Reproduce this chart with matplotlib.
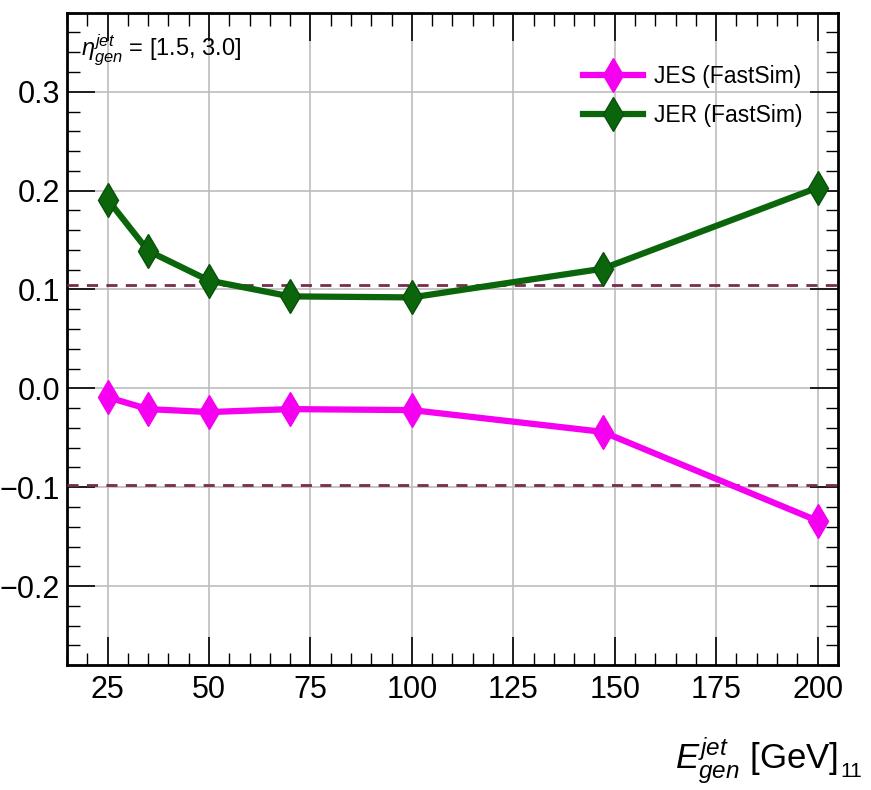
import matplotlib
matplotlib.use("Agg")
import matplotlib.pyplot as plt
from matplotlib.ticker import MultipleLocator

plt.rcParams['font.family'] = ['Liberation Sans', 'DejaVu Sans']
plt.rcParams['mathtext.fontset'] = 'custom'
plt.rcParams['mathtext.rm'] = 'Liberation Sans'
plt.rcParams['mathtext.it'] = 'Liberation Sans:italic'

e_gen = [25, 35, 50, 70, 100, 147, 200]
jes = [-0.009, -0.021, -0.024, -0.021, -0.022, -0.044, -0.134]
jer = [0.191, 0.139, 0.109, 0.093, 0.092, 0.121, 0.203]
band_hi = 0.105
band_lo = -0.098

fig = plt.figure(figsize=(8.71, 7.90), dpi=100)
ax = fig.add_axes([0.077, 0.158, 0.885, 0.826])

ax.axhline(band_hi, color='#7a2c4c', lw=2, ls=(0, (4, 3)), zorder=3)
ax.axhline(band_lo, color='#7a2c4c', lw=2, ls=(0, (4, 3)), zorder=3)

ax.plot(e_gen, jes, color='#f500f0', lw=4.5, marker='d', ms=17,
        mec='#f500f0', label='JES (FastSim)', zorder=4)
ax.plot(e_gen, jer, color='#0b650b', lw=4.5, marker='d', ms=17,
        mec='#0a4f0a', label='JER (FastSim)', zorder=4)

ax.set_xlim(15, 205)
ax.set_ylim(-0.28, 0.38)
ax.xaxis.set_major_locator(MultipleLocator(25))
ax.xaxis.set_minor_locator(MultipleLocator(5))
ax.yaxis.set_minor_locator(MultipleLocator(0.02))
ax.set_yticks([-0.2, -0.1, 0.0, 0.1, 0.2, 0.3])
ax.set_yticklabels(['\u22120.2', '\u22120.1', '0.0', '0.1', '0.2', '0.3'])
ax.grid(True, which='major', color='#bdbdbd', lw=1.2)
ax.tick_params(which='both', direction='in', top=True, right=True, labelsize=22)
ax.tick_params(which='major', length=20, width=1.2)
ax.tick_params(which='minor', length=9, width=1.0)
ax.tick_params(axis='x', pad=7)
ax.tick_params(axis='y', pad=5)
for s in ax.spines.values():
    s.set_linewidth(2)

ax.text(0.018, 0.97, r'$\eta^{jet}_{gen}$ = [1.5, 3.0]', transform=ax.transAxes,
        fontsize=17, va='top', ha='left')

leg = ax.legend(loc='upper right', bbox_to_anchor=(0.975, 0.945), frameon=False,
                fontsize=16.5, handlelength=2.6, handletextpad=0.5,
                borderaxespad=0.3, labelspacing=0.7)

fig.text(0.962, 0.005, r'$E^{jet}_{gen}$ [GeV]', fontsize=25, ha='right', va='bottom')
fig.text(0.965, 0.012, '11', fontsize=15, ha='left', va='bottom')

fig.savefig('out.png', dpi=100)
